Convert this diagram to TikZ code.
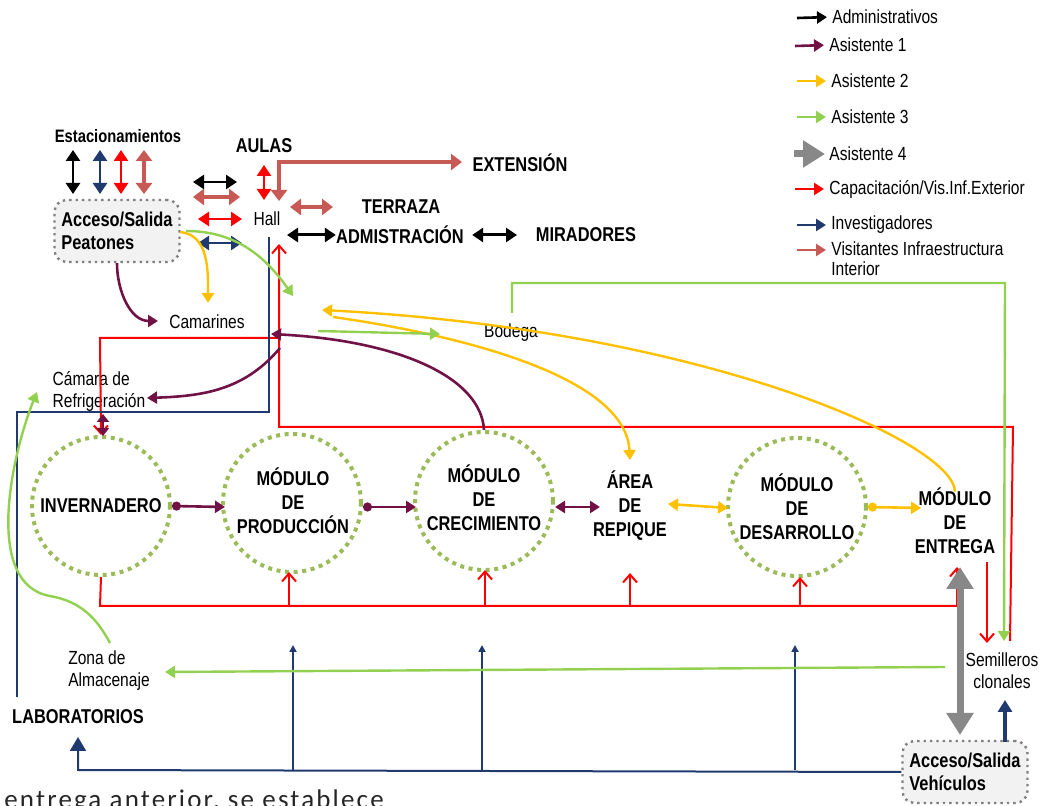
\documentclass[tikz,border=0pt]{standalone}
\usepackage{fontspec}
\setmainfont{Liberation Sans}[FakeStretch=0.82]
\newfontfamily\bodyfont{Carlito}[LetterSpace=8]
\usetikzlibrary{arrows.meta}

\definecolor{purp}{RGB}{112,18,70}
\definecolor{gold}{RGB}{255,192,0}
\definecolor{lime}{RGB}{146,208,80}
\definecolor{navy}{RGB}{32,58,112}
\definecolor{salmon}{RGB}{200,90,86}
\definecolor{olive}{RGB}{155,187,89}
\definecolor{boxgray}{RGB}{242,242,242}
\definecolor{ash}{RGB}{136,136,136}

\begin{document}
\begin{tikzpicture}[x=0.5pt, y=0.5pt,
	>={Triangle[length=5pt,width=6pt]},
	ring/.style={circle, draw=olive, line width=2pt, dash pattern=on 2pt off 2.3pt, minimum size=69pt, inner sep=0pt},
	lbl/.style={font=\bfseries\fontsize{10}{12}\selectfont, align=center, inner sep=0pt},
	txt/.style={font=\fontsize{9.5}{11}\selectfont, align=left, inner sep=0pt},
	door/.style={draw=gray, dotted, line width=1.2pt, rounded corners=6pt, fill=boxgray, minimum width=62.5pt, minimum height=31pt, font=\bfseries\fontsize{10}{11.5}\selectfont, align=left},
	flow/.style={line width=1pt},
	stub/.style={line width=1.3pt, <->, >={Triangle[length=5.5pt,width=7pt]}},
	wide/.style={line width=1.6pt, <->, >={Triangle[length=5.5pt,width=8pt]}},
	barb/.style={-{Straight Barb[length=4pt,width=7pt]}},
	knob/.style={{Circle[length=4.5pt]}->},
	small/.style={>={Triangle[length=3.5pt,width=3.5pt]}},
	key/.style={line width=1.3pt, ->, shorten >=2.5pt},
	heavy/.style={ash, line width=3.5pt, >={Triangle[length=11pt,width=13pt]}}
]
\useasboundingbox (0,0) rectangle (1050,-806);

% legend
\node[txt, anchor=west] (lg1) at (832,-17) {Administrativos};
\node[txt, anchor=west] (lg2) at (829,-45) {Asistente 1};
\node[txt, anchor=west] (lg3) at (831,-81) {Asistente 2};
\node[txt, anchor=west] (lg4) at (831,-117) {Asistente 3};
\node[txt, anchor=west] (lg5) at (829,-154) {Asistente 4};
\node[txt, anchor=west] (lg6) at (829,-189) {Capacitación/Vis.Inf.Exterior};
\node[txt, anchor=west] (lg7) at (831,-225) {Investigadores};
\node[txt, anchor=north west, font=\fontsize{9.5}{10}\selectfont] (lg8) at (831,-241) {Visitantes Infraestructura\\Interior};
\draw[black, key] (797,-18) -- (lg1.west);
\draw[purp, key] (795,-46) -- (lg2.west);
\draw[gold, key] (797,-81) -- (lg3.west);
\draw[lime, key] (797,-117) -- (lg4.west);
\draw[heavy, ->, shorten >=2pt] (794,-154) -- (lg5.west);
\draw[red, key] (795,-189) -- (lg6.west);
\draw[navy, key] (797,-225) -- (lg7.west);
\draw[salmon, key] (797,-250) -- (831,-250);

% entrance area
\node[lbl, font=\bfseries\fontsize{9}{11}\selectfont] (est) at (118,-136) {Estacionamientos};
\node[door] (pea) at (117,-231) {Acceso/Salida\\Peatones};
\node[lbl] (aul) at (264,-146) {AULAS};
\node[txt] (hall) at (267,-219) {Hall};
\node[lbl] (ext) at (520,-163) {EXTENSIÓN};
\node[lbl] (ter) at (401,-207) {TERRAZA};
\node[lbl] (adm) at (400,-235) {ADMISTRACIÓN};
\node[lbl] (mir) at (586,-235) {MIRADORES};
\node[txt] (cam) at (207,-322) {Camarines};
\node[txt] (bod) at (511,-333) {Bodega};
\node[txt] (fri) at (99,-391) {Cámara de\\Refrigeración};

% parking <-> entrance
\draw[stub, black] (73,-150) -- (73,-194);
\draw[stub, navy] (100,-150) -- (100,-194);
\draw[stub, red] (121,-150) -- (121,-194);
\draw[wide, salmon] (144,-150) -- (144,-194);
% entrance <-> hall
\draw[stub, black] (193,-182) -- (237,-182);
\draw[wide, salmon] (193,-197) -- (240,-197);
\draw[stub, red] (198,-219) -- (242,-219);
\draw[stub, navy] (198,-243) -- (242,-243);
\draw[stub, red] (264,-165) -- (264,-200);
% hall to the other rooms
\draw[wide, salmon] (279,-201) -- (279,-162) -- (462,-162);
\draw[wide, salmon] (290,-207) -- (333,-207);
\draw[stub, black, line width=1.5pt] (287,-235) -- (adm.west);
\draw[stub, black, line width=1.5pt] (adm.east) ++(8,0) -- (517,-235);

% rooms of the production line
\node[ring] (inv) at (101,-506) {};
\node[lbl] (invt) at (inv) {INVERNADERO};
\node[ring] (prod) at (292,-503) {};
\node[lbl] (prodt) at (293,-501) {MÓDULO\\DE\\PRODUCCIÓN};
\node[ring] (crec) at (484,-501) {};
\node[lbl] (crect) at (484,-498) {MÓDULO\\DE\\CRECIMIENTO};
\node[lbl] (rep) at (630,-506) {ÁREA\\DE\\REPIQUE};
\node[ring] (desa) at (797,-507) {};
\node[lbl] (desat) at (797,-507) {MÓDULO\\DE\\DESARROLLO};
\node[lbl] (ent) at (955,-521) {MÓDULO\\DE\\ENTREGA};

% along the line
\draw[purp, line width=1.3pt, knob] (inv.east) -- (225,-507);
\draw[purp, line width=1.3pt, knob] (prod.east) ++(0,-4) -- (416,-507);
\draw[purp, line width=1.3pt, <->] (555,-507) -- (600,-507);
\draw[gold, line width=1.3pt, <->] (668,-504) -- (728,-508);
\draw[gold, line width=1.3pt, knob] (desa.east) -- (921,-508);

% training circuit
\draw[red, flow, barb] (inv.south) -- (100,-606) -- (957,-606) -- (957,-567);
\draw[red, flow, barb] (289,-606) -- (289,-572);
\draw[red, flow, barb] (485,-606) -- (485,-570);
\draw[red, flow, barb] (630,-606) -- (630,-573);
\draw[red, flow, barb] (800,-606) -- (800,-577);
\draw[red, flow, barb] (1010,-641) -- (1013,-427) -- (279,-427) -- (279,-244);
\draw[red, flow, barb] (279,-338) -- (100,-338) -- (inv.north);
\draw[red, flow, barb] (987,-562) -- (987,-643);

% storage and exit
\node[txt] (zona) at (109,-671) {Zona de\\Almacenaje};
\node[lbl] (lab) at (78,-717) {LABORATORIOS};
\node[txt, align=center] (sem) at (1002,-671) {Semilleros\\clonales};
\node[door] (veh) at (965,-772) {Acceso/Salida\\Vehículos};

% researchers
\draw[navy, flow] (269,-237) -- (269,-412) -- (17,-412) -- (17,-697);
\draw[navy, flow, ->, >={Triangle[length=7pt,width=8pt]}] (veh.west) -- (78,-770) -- (78,-737);
\draw[navy, flow, small, ->] (293,-770) -- (293,-645);
\draw[navy, flow, small, ->] (482,-770) -- (482,-645);
\draw[navy, flow, small, ->] (795,-770) -- (795,-645);
\draw[navy, line width=1.6pt, ->, >={Triangle[length=6pt,width=7pt]}] (1005,-742) -- (1005,-700);

% vehicles
\draw[heavy, <->] (960,-567) -- (960,-735);

% assistant 1
\draw[purp, line width=1.3pt, ->] (pea.south) to [out=-90,in=180] (158,-321);
\draw[purp, line width=1.3pt, ->] (crec.north) to [out=93,in=-3,out distance=26pt,in distance=65pt] (271,-334);
\draw[purp, line width=1.3pt, ->] (280,-348) to [out=-130,in=2] (147,-398);
\draw[purp, line width=1.2pt, <->, >={Triangle[length=4pt,width=6pt]}] (103,-414) -- (103,-436);

% assistant 2
\draw[gold, line width=1.2pt, ->] (180,-232) to [out=-5,in=90] (208,-303);
\draw[gold, line width=1.2pt, ->] (ent.north) ++(0,-4) to [out=92,in=-3,out distance=25pt,in distance=190pt] (322,-310);
\draw[gold, line width=1.2pt, ->] (333,-317) to [out=-8,in=93,out distance=50pt,in distance=45pt] (630,-460);

% assistant 3
\draw[lime, line width=1.2pt, ->] (186,-231) to [out=0,in=125] (293,-296);
\draw[lime, line width=1.2pt, ->] (318,-331) -- (440,-334);
\draw[lime, line width=1.2pt, ->] (512,-313) -- (512,-283) -- (1005,-283) -- (1004,-641);
\draw[lime, line width=1.2pt, ->] (945,-667) -- (165,-672);
\draw[lime, line width=1.2pt, ->] (110,-643) to [out=118,in=-10] (50,-596) to [out=170,in=-112,looseness=0.85] (37,-392);

% text below
\node[anchor=base west, inner sep=0pt, font=\bodyfont\fontsize{13.5}{16}\selectfont, text=black!85] (body) at (4,-808) {entrega anterior, se establece};
\end{tikzpicture}
\end{document}
